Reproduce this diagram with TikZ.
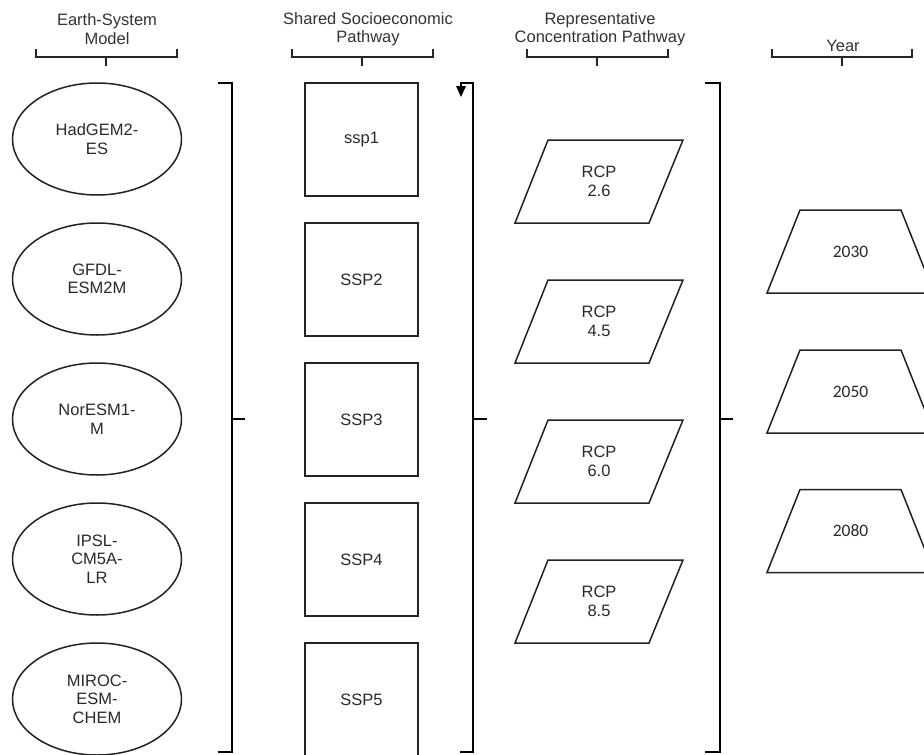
\documentclass[tikz,border=0pt]{standalone}
\usepackage{fontspec}
\setmainfont{Liberation Sans}
\newfontfamily\yearfont{Carlito}
\usetikzlibrary{shapes.geometric,arrows.meta}
\definecolor{txt}{HTML}{2A2A2A}
\definecolor{hdrc}{HTML}{333333}
\definecolor{edge}{HTML}{222222}
\begin{document}
\begin{tikzpicture}[x=1pt,y=-1pt,
  lbl/.style={text=txt, font=\fontsize{16.5}{18.5}\selectfont, align=center, inner sep=0pt},
  hdr/.style={lbl, text=hdrc},
  brk/.style={line width=2.6pt, draw=black},
  bracebar/.style={line width=2.4pt, draw=black!85},
  esm/.style={ellipse, draw=edge, line width=1.5pt, minimum width=169pt, minimum height=112pt, lbl},
  ssp/.style={rectangle, draw=edge, line width=1.5pt, minimum size=113pt, lbl},
  rcp/.style={lbl},
  yr/.style={lbl, font=\yearfont\fontsize{17.5}{20}\selectfont},
  shp/.style={draw=edge, line width=1.5pt, line join=miter},
]
\clip (0,0) rectangle (924,755);
\fill[white] (0,0) rectangle (924,755);

% headers
\node[hdr] (h1) at (107,29) {Earth-System\\Model};
\node[hdr] (h2) at (368,29) {Shared Socioeconomic\\Pathway};
\node[hdr] (h3) at (600,29) {Representative\\Concentration Pathway};
\node[hdr] (h4) at (843,46) {Year};

% header braces
\draw[bracebar] (36,49) -- (36,57) -- (177,57) -- (177,49);
\draw[bracebar] (106,57) -- (106,66);
\draw[bracebar] (292,49) -- (292,57) -- (433,57) -- (433,49);
\draw[bracebar] (362,57) -- (362,66);
\draw[bracebar] (527,49) -- (527,57) -- (668,57) -- (668,49);
\draw[bracebar] (597,57) -- (597,66);
\draw[bracebar] (772,49) -- (772,57) -- (912,57) -- (912,49);
\draw[bracebar] (842,57) -- (842,66);

% earth-system models
\node[esm] (e1) at (97,139) {HadGEM2-\\ES};
\node[esm] (e2) at (97,279) {GFDL-\\ESM2M};
\node[esm] (e3) at (97,419) {NorESM1-\\M};
\node[esm] (e4) at (97,559) {IPSL-\\CM5A-\\LR};
\node[esm] (e5) at (97,699) {MIROC-\\ESM-\\CHEM};

% SSP squares
\node[ssp] (s1) at (361.5,139.5) {ssp1};
\node[ssp] (s2) at (361.5,279.5) {SSP2};
\node[ssp] (s3) at (361.5,419.5) {SSP3};
\node[ssp] (s4) at (361.5,559.5) {SSP4};
\node[ssp] (s5) at (361.5,699.5) {SSP5};

% RCP parallelograms
\foreach \n/\y/\t in {r1/181.5/{RCP\\2.6}, r2/321.5/{RCP\\4.5}, r3/461.5/{RCP\\6.0}, r4/601.5/{RCP\\8.5}}{
  \node[rcp] (\n) at (599,\y) {\t};
  \draw[shp, shift={(\n.center)}] (-51,-41.5) -- (84,-41.5) -- (50,41.5) -- (-84,41.5) -- cycle;
}

% Year trapezoids
\foreach \n/\y/\t in {y1/251.5/2030, y2/391.5/2050, y3/531/2080}{
  \node[yr] (\n) at (850.5,\y) {\t};
  \draw[shp, shift={(\n.center)}] (-50.5,-41.5) -- (50.5,-41.5) -- (83.5,41.5) -- (-83.5,41.5) -- cycle;
}

% big brackets
\draw[brk] (218,83) -- (232,83) -- (232,752) -- (218,752);
\draw[brk] (232,419) -- (245,419);
\draw[brk] (460,752) -- (473,752) -- (473,83) -- (461,83) -- (461,86);
\fill[black] (456,86) -- (466,86) -- (461,97) -- cycle;
\draw[brk] (473,419) -- (487,419);
\draw[brk] (705,83) -- (720,83) -- (720,752) -- (705,752);
\draw[brk] (720,419) -- (733,419);
\end{tikzpicture}
\end{document}
